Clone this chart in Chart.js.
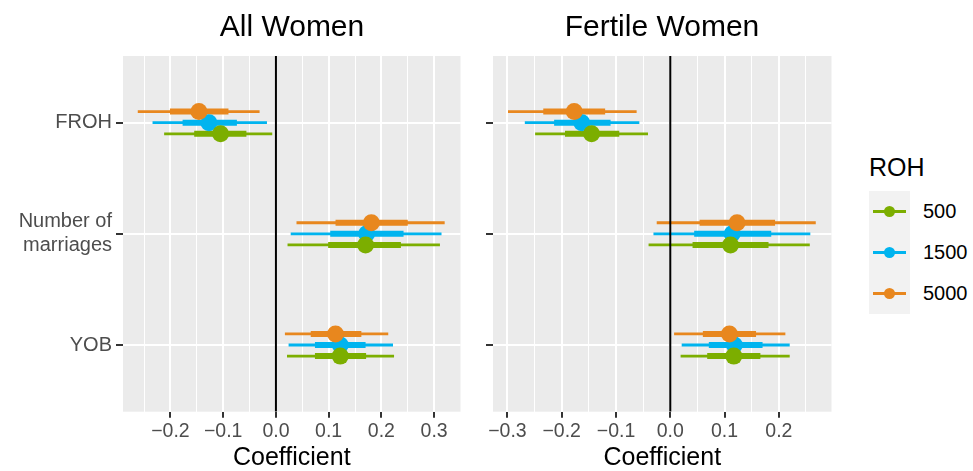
<!DOCTYPE html>
<html>
<head>
<meta charset="utf-8">
<script src="https://cdn.jsdelivr.net/npm/chart.js@4.4.0/dist/chart.umd.min.js"></script>
<style>
  body { margin: 0; background: #fff; font-family: "Liberation Sans", Arial, sans-serif; }
  #wrap { position: relative; width: 973px; height: 471px; overflow: hidden; }
  canvas { position: absolute; top: 0; }
  .ptitle { position: absolute; top: 10.6px; font-size: 30px; line-height: 30px; color: #000; white-space: nowrap; transform: translateX(-50%); }
  #legTitle { position: absolute; left: 869px; top: 154.5px; font-size: 25px; line-height: 25px; color: #000; }
  #legBox { position: absolute; left: 869px; top: 191px; width: 41px; height: 123px; background: #F2F2F2; }
  .legItem { position: absolute; left: 869px; width: 100px; height: 41px; }
  .legLine { position: absolute; left: 4px; top: 19px; width: 33px; height: 3px; }
  .legDot { position: absolute; left: 15px; top: 15px; width: 11px; height: 11px; border-radius: 50%; }
  .legText { position: absolute; left: 54px; top: 0; font-size: 20px; line-height: 41px; color: #000; }
</style>
</head>
<body>
<div id="wrap">
  <canvas id="allWomen" width="469" height="471" style="left:0px"></canvas>
  <canvas id="fertileWomen" width="370" height="471" style="left:470px"></canvas>
  <div class="ptitle" style="left:292px">All Women</div>
  <div class="ptitle" style="left:662px">Fertile Women</div>
  <div id="legTitle">ROH</div>
  <div id="legBox"></div>
  <div id="legend"></div>
</div>
<script>
// categories (top to bottom) and ROH series
const categories = ["FROH", ["Number of", "marriages"], "YOB"];
const series = ["500", "1500", "5000"];
const colours = ["#7CAE00", "#00B4EF", "#E8871E"];
const dodge = [0.1, 0, -0.1];

// All Women: rows = series (500, 1500, 5000), columns = categories
const allEst   = [[-0.105, 0.170, 0.122], [-0.127, 0.172, 0.122], [-0.146, 0.181, 0.113]];
const allInLo  = [[-0.155, 0.099, 0.074], [-0.177, 0.103, 0.074], [-0.201, 0.113, 0.066]];
const allInHi  = [[-0.056, 0.237, 0.171], [-0.074, 0.242, 0.170], [-0.090, 0.250, 0.162]];
const allOutLo = [[-0.212, 0.022, 0.021], [-0.234, 0.028, 0.024], [-0.262, 0.039, 0.017]];
const allOutHi = [[-0.007, 0.311, 0.224], [-0.017, 0.314, 0.222], [-0.031, 0.320, 0.213]];

// Fertile Women
const ferEst   = [[-0.145, 0.111, 0.117], [-0.163, 0.114, 0.118], [-0.177, 0.123, 0.109]];
const ferInLo  = [[-0.194, 0.041, 0.068], [-0.214, 0.044, 0.071], [-0.234, 0.054, 0.060]];
const ferInHi  = [[-0.094, 0.181, 0.166], [-0.110, 0.186, 0.170], [-0.120, 0.193, 0.158]];
const ferOutLo = [[-0.249, -0.040, 0.019], [-0.268, -0.031, 0.021], [-0.299, -0.025, 0.007]];
const ferOutHi = [[-0.041, 0.257, 0.220], [-0.057, 0.258, 0.220], [-0.062, 0.268, 0.212]];

// x ticks
const allTicks = [-0.2, -0.1, 0.0, 0.1, 0.2, 0.3];
const allMinor = [-0.25, -0.15, -0.05, 0.05, 0.15, 0.25];
const ferTicks = [-0.3, -0.2, -0.1, 0.0, 0.1, 0.2];
const ferMinor = [-0.25, -0.15, -0.05, 0.05, 0.15, 0.25];

const panelBg = {
  id: "panelBg",
  beforeDraw(chart) {
    const a = chart.chartArea, c = chart.ctx;
    c.save();
    c.fillStyle = "#EBEBEB";
    c.fillRect(a.left, a.top, a.right - a.left, a.bottom - a.top);
    c.restore();
  }
};

function segs(lo, hi, s) {
  const pts = [];
  for (let c = 0; c < categories.length; c++) {
    const y = c + 1 + dodge[s];
    pts.push({ x: lo[s][c], y: y }, { x: hi[s][c], y: y }, { x: null, y: null });
  }
  return pts;
}

function dots(est, s) {
  return categories.map((c, i) => ({ x: est[s][i], y: i + 1 + dodge[s] }));
}

const pointOrder = [2, 3, 1];

function makePanel(id, est, inLo, inHi, outLo, outHi, xMin, xMax, major, minor, showY, yWidth) {
  const isMinor = (v) => minor.some(m => Math.abs(m - v) < 1e-9);
  const datasets = [];
  series.forEach((name, s) => {
    datasets.push({ data: segs(outLo, outHi, s), borderColor: colours[s], borderWidth: 2.8,
      pointRadius: 0, showLine: true, spanGaps: false, order: 20 });
    datasets.push({ data: segs(inLo, inHi, s), borderColor: colours[s], borderWidth: 6,
      pointRadius: 0, showLine: true, spanGaps: false, order: 10 });
    datasets.push({ data: dots(est, s), showLine: false, pointRadius: 8.5, pointBorderWidth: 0,
      pointBackgroundColor: colours[s], borderColor: colours[s], order: pointOrder[s] });
  });
  // zero reference line
  datasets.push({ data: [{ x: 0, y: 0.4 }, { x: 0, y: 3.6 }], borderColor: "#000", borderWidth: 2,
    pointRadius: 0, showLine: true, order: -1 });

  return new Chart(document.getElementById(id), {
    type: "line",
    data: { datasets: datasets },
    plugins: [panelBg],
    options: {
      responsive: false,
      animation: false,
      events: [],
      layout: { padding: { top: 56, right: 5, left: 0, bottom: 0 } },
      plugins: { legend: { display: false }, tooltip: { enabled: false } },
      scales: {
        x: {
          type: "linear", min: xMin, max: xMax,
          afterBuildTicks: (sc) => {
            sc.ticks = major.concat(minor).sort((a, b) => a - b).map(v => ({ value: v }));
          },
          afterFit: (sc) => { sc.height = 59.3; },
          border: { display: false },
          grid: {
            color: "#FFFFFF",
            lineWidth: (ctx) => (ctx.tick && isMinor(ctx.tick.value)) ? 1 : 2,
            tickLength: 6,
            tickWidth: 2,
            tickColor: (ctx) => (ctx.tick && isMinor(ctx.tick.value)) ? "rgba(0,0,0,0)" : "#333333"
          },
          ticks: {
            autoSkip: false, maxRotation: 0, padding: 2, color: "#4D4D4D",
            font: { size: 19.5, family: "'Liberation Sans', Arial, sans-serif" },
            callback: (v) => isMinor(v) ? "" : v.toFixed(1).replace("-", "\u2212")
          },
          title: {
            display: true, text: "Coefficient", color: "#000",
            font: { size: 25, family: "'Liberation Sans', Arial, sans-serif" },
            padding: { top: 0, bottom: -2.5 }
          }
        },
        y: {
          type: "linear", min: 0.4, max: 3.6, reverse: true,
          afterBuildTicks: (sc) => { sc.ticks = categories.map((c, i) => ({ value: i + 1 })); },
          afterFit: (sc) => { sc.width = yWidth; },
          border: { display: false },
          grid: { color: "#FFFFFF", lineWidth: 2, tickLength: 7, tickWidth: 2, tickColor: "#333333" },
          ticks: {
            padding: 4, color: "#4D4D4D",
            font: { size: 20, family: "'Liberation Sans', Arial, sans-serif" },
            callback: (v) => showY ? categories[Math.round(v) - 1] : ""
          }
        }
      }
    }
  });
}

makePanel("allWomen", allEst, allInLo, allInHi, allOutLo, allOutHi, -0.290, 0.350, allTicks, allMinor, true, 123);
makePanel("fertileWomen", ferEst, ferInLo, ferInHi, ferOutLo, ferOutHi, -0.3266, 0.297, ferTicks, ferMinor, false, 23);

// legend
const legend = document.getElementById("legend");
series.forEach((name, i) => {
  const item = document.createElement("div");
  item.className = "legItem";
  item.style.top = (191 + 41 * i) + "px";
  item.innerHTML = '<div class="legLine" style="background:' + colours[i] + '"></div>' +
    '<div class="legDot" style="background:' + colours[i] + '"></div>' +
    '<div class="legText">' + name + '</div>';
  legend.appendChild(item);
});
</script>
</body>
</html>
